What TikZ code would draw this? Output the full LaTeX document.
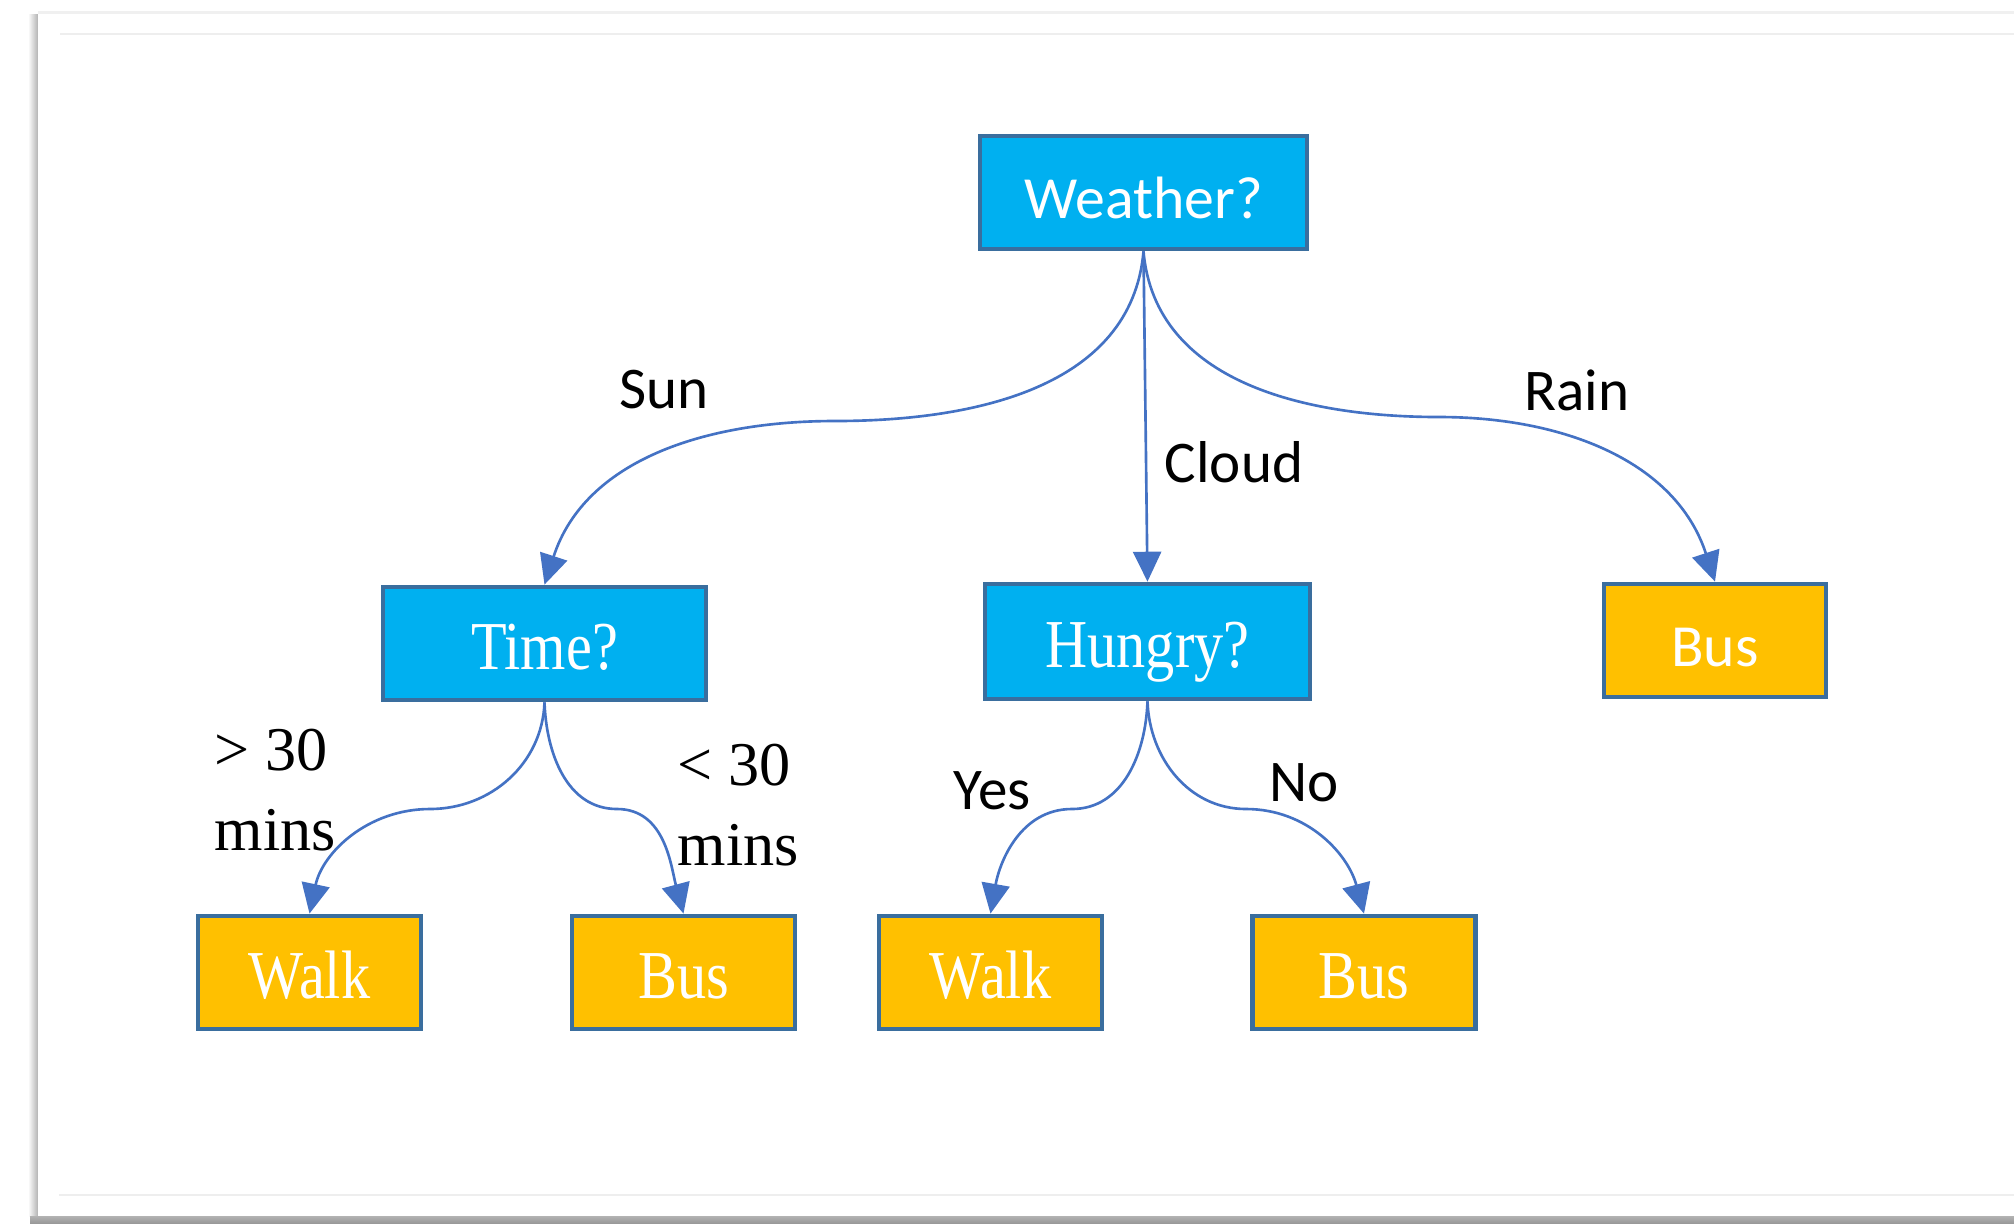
\documentclass[tikz,border=0pt]{standalone}
\usepackage{fontspec}
\usetikzlibrary{arrows.meta}
\newfontfamily\calfont{Carlito}
\newfontfamily\tnrbox[FakeStretch=0.85]{Liberation Serif}
\newfontfamily\tnrlabel{Liberation Serif}
\definecolor{boxcyan}{HTML}{00B0F0}
\definecolor{boxamber}{HTML}{FFC000}
\definecolor{boxedge}{HTML}{3A6E9E}
\definecolor{connblue}{HTML}{4472C4}
\definecolor{pagegray}{HTML}{EEEEEE}
\tikzset{
  basebox/.style={draw=boxedge, line width=1.35pt, text=white, inner sep=0pt, minimum height=1.13cm, text height=14.5pt, text depth=0pt},
  qbox/.style={basebox, fill=boxcyan},
  leafbox/.style={basebox, fill=boxamber, minimum width=2.23cm},
  calt/.style={font=\calfont\fontsize{17}{20}\selectfont},
  tnrt/.style={font=\tnrbox\fontsize{19.5}{23}\selectfont},
  clabel/.style={font=\calfont\fontsize{16.8}{20}\selectfont, text=black, inner sep=0pt},
  tlabel/.style={font=\tnrlabel\fontsize{17.7}{22.7}\selectfont, text=black, inner sep=0pt, align=left},
  conn/.style={draw=connblue, line width=0.75pt, -{Triangle[width=8pt,length=8.5pt]}},
}
\begin{document}
\begin{tikzpicture}[x=0.01cm,y=-0.01cm]
\useasboundingbox (0,0) rectangle (2014,1223);
% page and shadow
\shade[left color=white, right color=black!30] (28,14) rectangle (38,1216);
\shade[top color=black!30, bottom color=black!40] (30,1216) rectangle (2014,1223);
\fill[white] (38,12) rectangle (2014,1216);
\draw[black!6, line width=1pt] (38,12.5) -- (2014,12.5);
\draw[pagegray, line width=0.8pt] (60,34) -- (2014,34);
\draw[pagegray, line width=0.8pt] (59,1195) -- (2014,1195);
% nodes
\node[qbox, calt, minimum width=3.27cm] (W) at (1143.5,192.5) {Weather?};
\node[qbox, tnrt, minimum width=3.23cm] (T) at (544.5,643.5) {Time?};
\node[qbox, tnrt, minimum width=3.25cm, minimum height=1.15cm] (H) at (1147.5,641.5) {Hungry?};
\node[leafbox, calt, minimum width=2.22cm] (BR) at (1715,640.5) {Bus};
\node[leafbox, tnrt] (W1) at (309.5,972.5) {Walk};
\node[leafbox, tnrt] (B1) at (683.5,972.5) {Bus};
\node[leafbox, tnrt] (W2) at (990.5,972.5) {Walk};
\node[leafbox, tnrt] (B2) at (1364,972.5) {Bus};
% mid points
\coordinate (mSun) at (835,421);
\coordinate (mRain) at (1439,417);
\coordinate (mT1) at (430,809);
\coordinate (mT2) at (617,809);
\coordinate (mH1) at (1072,809);
\coordinate (mH2) at (1246,809);
% connectors
\draw[conn] (W.south) to[out=-95,in=0] (mSun) to[out=180,in=72] (T.north);
\draw[conn] (W.south) -- (H.north);
\draw[conn] (W.south) to[out=-85,in=180] (mRain) to[out=0,in=108] (BR.north);
\draw[conn] (T.south) to[out=-92,in=0] (mT1) to[out=180,in=78] (W1.north);
\draw[conn] (T.south) to[out=-88,in=180] (mT2) to[out=0,in=105] (B1.north);
\draw[conn] (H.south) to[out=-92,in=0] (mH1) to[out=180,in=80] (W2.north);
\draw[conn] (H.south) to[out=-88,in=180] (mH2) to[out=0,in=105] (B2.north);
% labels
\node[clabel] (lSun) at (664,390) {Sun};
\node[clabel] (lCloud) at (1234,462) {Cloud};
\node[clabel] (lRain) at (1577,390) {Rain};
\node[tlabel, anchor=west] (lGt) at (214,790) {> 30\\mins};
\node[tlabel, anchor=west] (lLt) at (677,805) {< 30\\mins};
\node[clabel] (lYes) at (992,791) {Yes};
\node[clabel] (lNo) at (1304,783) {No};
\end{tikzpicture}
\end{document}
